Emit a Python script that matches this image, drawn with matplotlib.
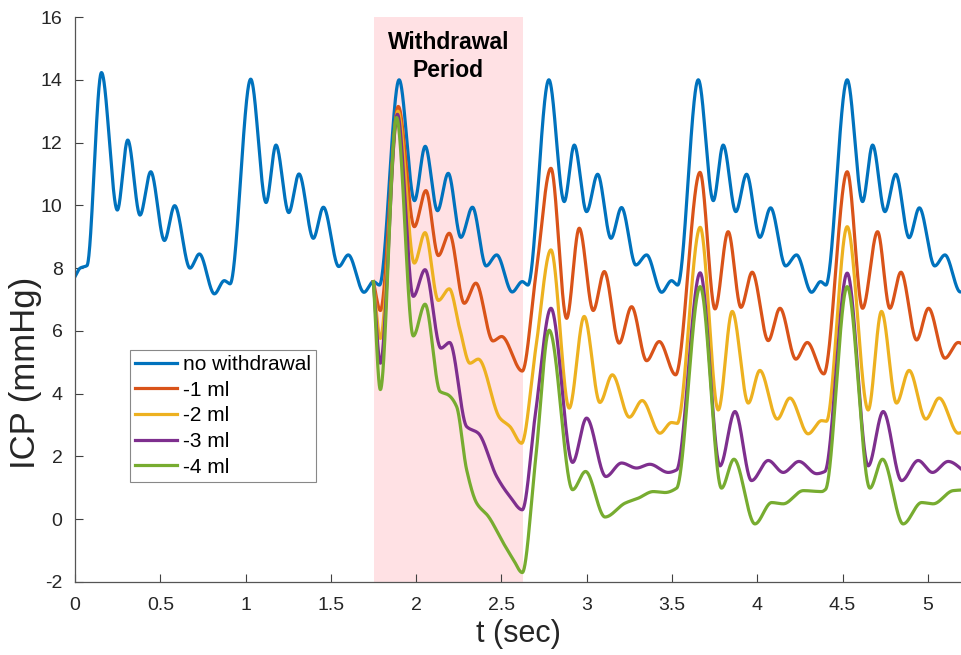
import numpy as np
import matplotlib
matplotlib.use("Agg")
import matplotlib.pyplot as plt
from matplotlib.ticker import FormatStrFormatter

plt.rcParams['font.family'] = ['Liberation Sans', 'DejaVu Sans']

# points (peaks, troughs and shoulders), t in sec, ICP in mmHg
t_none = [0.0, 0.03, 0.07, 0.155, 0.248, 0.309, 0.381, 0.444, 0.524, 0.584, 0.674, 0.729, 0.817, 0.875, 0.909,
          1.03, 1.12, 1.178, 1.253, 1.313, 1.397, 1.456, 1.546, 1.602, 1.694, 1.749, 1.785,
          1.90, 1.99, 2.053, 2.125, 2.188, 2.262, 2.33, 2.41, 2.472, 2.563, 2.622, 2.655,
          2.778, 2.868, 2.927, 2.999, 3.064, 3.142, 3.204, 3.288, 3.351, 3.439, 3.497, 3.533,
          3.654, 3.742, 3.80, 3.874, 3.937, 4.015, 4.078, 4.166, 4.23, 4.318, 4.371, 4.402,
          4.527, 4.617, 4.676, 4.748, 4.812, 4.89, 4.95, 5.04, 5.10, 5.19, 5.23]
v_none = [7.73, 8.0, 8.08, 14.23, 9.85, 12.08, 9.69, 11.07, 8.88, 9.99, 8.0, 8.45, 7.18, 7.60, 7.50,
          14.02, 10.09, 11.92, 9.77, 11.0, 8.95, 9.94, 8.05, 8.42, 7.23, 7.57, 7.46,
          14.0, 10.15, 11.88, 9.83, 11.02, 8.98, 9.94, 8.07, 8.42, 7.24, 7.57, 7.46,
          14.0, 10.12, 11.92, 9.8, 10.99, 8.95, 9.93, 8.1, 8.42, 7.23, 7.6, 7.46,
          14.0, 10.15, 11.92, 9.8, 10.99, 8.98, 9.92, 8.07, 8.42, 7.23, 7.57, 7.46,
          14.0, 10.12, 11.92, 9.8, 10.99, 8.97, 9.92, 8.07, 8.42, 7.24, 7.35]

t_1ml = [1.749, 1.79, 1.895, 1.989, 2.057, 2.13, 2.194, 2.282, 2.35, 2.45, 2.501, 2.622, 2.70,
         2.79, 2.882, 2.956, 3.038, 3.103, 3.19, 3.263, 3.351, 3.425, 3.521,
         3.664, 3.752, 3.829, 3.904, 3.97, 4.064, 4.133, 4.226, 4.293, 4.39,
         4.527, 4.617, 4.705, 4.777, 4.842, 4.934, 5.004, 5.10, 5.178, 5.23]
v_1ml = [7.57, 6.65, 13.15, 9.32, 10.47, 8.40, 9.11, 6.88, 7.52, 5.68, 5.82, 4.72, 7.7,
         11.18, 6.40, 9.27, 6.65, 7.89, 5.61, 6.77, 5.05, 5.66, 4.60,
         11.05, 6.70, 9.16, 6.75, 7.87, 5.69, 6.72, 5.10, 5.63, 4.63,
         11.07, 6.72, 9.16, 6.72, 7.87, 5.71, 6.72, 5.13, 5.63, 5.45]

t_2ml = [1.749, 1.79, 1.893, 1.989, 2.052, 2.13, 2.194, 2.257, 2.315, 2.364, 2.491, 2.55, 2.618, 2.70,
         2.79, 2.897, 2.985, 3.077, 3.15, 3.25, 3.325, 3.429, 3.497, 3.53,
         3.665, 3.771, 3.853, 3.947, 4.015, 4.117, 4.191, 4.298, 4.377, 4.405,
         4.527, 4.65, 4.728, 4.816, 4.89, 4.988, 5.066, 5.178, 5.23]
v_2ml = [7.57, 5.76, 13.0, 8.16, 9.13, 6.97, 7.34, 6.03, 4.97, 5.10, 3.22, 2.95, 2.42, 5.4,
         8.58, 3.54, 6.46, 3.72, 4.60, 3.25, 3.78, 2.74, 3.08, 3.05,
         9.3, 3.48, 6.62, 3.70, 4.74, 3.19, 3.86, 2.72, 3.14, 3.12,
         9.32, 3.48, 6.62, 3.70, 4.74, 3.19, 3.86, 2.74, 2.85]

t_3ml = [1.749, 1.79, 1.89, 1.983, 2.052, 2.145, 2.196, 2.296, 2.364, 2.472, 2.55, 2.622, 2.70,
         2.79, 2.917, 2.999, 3.112, 3.204, 3.292, 3.37, 3.478, 3.527,
         3.665, 3.781, 3.869, 3.966, 4.064, 4.152, 4.244, 4.348, 4.396,
         4.527, 4.65, 4.738, 4.846, 4.943, 5.027, 5.119, 5.23]
v_3ml = [7.57, 4.97, 12.9, 7.10, 7.95, 5.45, 5.63, 2.95, 2.74, 1.36, 0.72, 0.30, 3.4,
         6.72, 1.81, 3.22, 1.36, 1.79, 1.63, 1.75, 1.49, 1.57,
         7.85, 1.70, 3.43, 1.23, 1.87, 1.49, 1.84, 1.45, 1.52,
         7.84, 1.70, 3.43, 1.23, 1.87, 1.49, 1.84, 1.45]

t_4ml = [1.749, 1.79, 1.885, 1.983, 2.052, 2.14, 2.188, 2.237, 2.296, 2.355, 2.423, 2.511, 2.57, 2.622, 2.70,
         2.78, 2.917, 2.993, 3.107, 3.224, 3.302, 3.39, 3.459, 3.527,
         3.665, 3.79, 3.863, 3.986, 4.084, 4.152, 4.27, 4.377, 4.40,
         4.527, 4.66, 4.734, 4.855, 4.963, 5.031, 5.148, 5.23]
v_4ml = [7.57, 4.13, 12.8, 5.84, 6.85, 4.07, 3.96, 3.59, 1.57, 0.51, 0.09, -0.76, -1.29, -1.70, 1.9,
         6.02, 0.94, 1.52, 0.07, 0.51, 0.67, 0.88, 0.85, 0.99,
         7.41, 0.99, 1.91, -0.15, 0.53, 0.49, 0.91, 0.88, 0.95,
         7.41, 0.99, 1.91, -0.15, 0.53, 0.49, 0.91, 0.94]

labels = ['no withdrawal', '-1 ml', '-2 ml', '-3 ml', '-4 ml']
colors = ['#0072BD', '#D95319', '#EDB120', '#7E2F8E', '#77AC30']
withdrawal = [1.753, 2.626]


def smooth(x, y, n=4000):
    # monotone cubic (pchip) through the read points, only for drawing a smooth trace
    x = np.asarray(x, float)
    y = np.asarray(y, float)
    h = np.diff(x)
    d = np.diff(y) / h
    m = np.zeros_like(y)
    m[0], m[-1] = d[0], d[-1]
    for k in range(1, len(x) - 1):
        if d[k - 1] * d[k] > 0:
            w1 = 2 * h[k] + h[k - 1]
            w2 = h[k] + 2 * h[k - 1]
            m[k] = (w1 + w2) / (w1 / d[k - 1] + w2 / d[k])
    xs = np.linspace(x[0], x[-1], n)
    i = np.clip(np.searchsorted(x, xs) - 1, 0, len(x) - 2)
    s = (xs - x[i]) / h[i]
    h00 = 2 * s**3 - 3 * s**2 + 1
    h10 = s**3 - 2 * s**2 + s
    h01 = -2 * s**3 + 3 * s**2
    h11 = s**3 - s**2
    ys = h00 * y[i] + h10 * h[i] * m[i] + h01 * y[i + 1] + h11 * h[i] * m[i + 1]
    return xs, ys


fig = plt.figure(figsize=(9.62, 6.55), dpi=100)
ax = fig.add_axes([0.078, 0.1115, 0.922, 0.8625])

ax.axvspan(withdrawal[0], withdrawal[1], color='#FFE1E4', lw=0, zorder=0)

series = [(t_none, v_none), (t_1ml, v_1ml), (t_2ml, v_2ml), (t_3ml, v_3ml), (t_4ml, v_4ml)]
for (t, v), lab, c in zip(series, labels, colors):
    xs, ys = smooth(t, v)
    ax.plot(xs, ys, color=c, lw=2.3, label=lab)

ax.text(sum(withdrawal) / 2, 14.75, 'Withdrawal\nPeriod', ha='center', va='center',
        fontsize=16.5, fontweight='bold', linespacing=1.3)

ax.set_xlim(0, 5.2)
ax.set_ylim(-2, 16)
ax.set_xticks(np.arange(0, 5.01, 0.5))
ax.set_yticks(np.arange(-2, 16.1, 2))
ax.xaxis.set_major_formatter(FormatStrFormatter('%g'))
ax.yaxis.set_major_formatter(FormatStrFormatter('%g'))
ax.tick_params(direction='in', length=6, width=0.8, colors='#404040', labelsize=14, labelcolor='#262626')
ax.tick_params(axis='x', pad=10.5)
ax.tick_params(axis='y', pad=9)
ax.spines['top'].set_visible(False)
ax.spines['right'].set_visible(False)
for s in ['left', 'bottom']:
    ax.spines[s].set_color('#555555')
    ax.spines[s].set_linewidth(0.9)

ax.set_xlabel('t (sec)', fontsize=22, color='#262626', labelpad=4)
ax.set_ylabel('ICP (mmHg)', fontsize=25, color='#262626')
ax.yaxis.set_label_coords(-0.037, 0.37)

leg = ax.legend(loc='lower left', bbox_to_anchor=(0.062, 0.177), fontsize=15, frameon=True,
                fancybox=False, framealpha=1, edgecolor='#888888', handlelength=2.0,
                handletextpad=0.3, labelspacing=0.32, borderpad=0.25, borderaxespad=0)
leg.get_frame().set_linewidth(0.8)

fig.savefig('out.png', dpi=100)
